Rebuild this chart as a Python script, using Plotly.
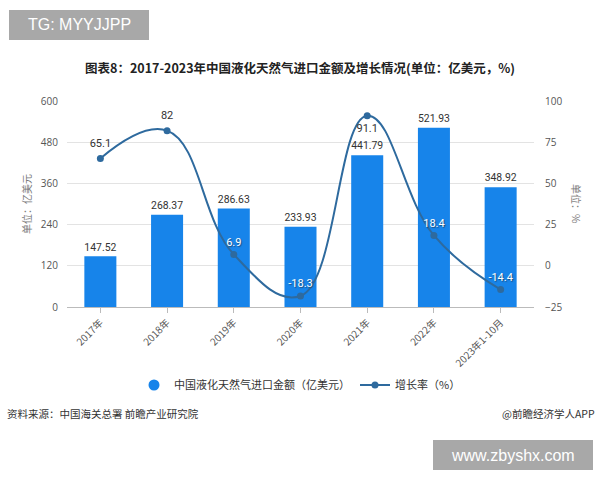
import plotly.graph_objects as go

categories = ["2017年", "2018年", "2019年", "2020年", "2021年", "2022年", "2023年1-10月"]
import_value = [147.52, 268.37, 286.63, 233.93, 441.79, 521.93, 348.92]
growth_rate = [65.1, 82, 6.9, -18.3, 91.1, 18.4, -14.4]
left_ticks = [0, 120, 240, 360, 480, 600]
right_ticks = [-25, 0, 25, 50, 75, 100]

W, H = 600, 480
L, R, T, B = 67, 534, 101, 307  # plot area px


def px(x):
    return (x - L) / (R - L)


def py(y):
    return (B - y) / (B - T)


CJK = "Noto Sans CJK SC, Noto Sans, sans-serif"
NUM = "Roboto, Noto Sans, sans-serif"
bar_color = "#1784EA"
line_color = "#2E6A9E"

fig = go.Figure()
fig.add_trace(go.Bar(
    x=categories, y=import_value, name="中国液化天然气进口金额（亿美元）",
    marker=dict(color=bar_color, line=dict(width=0)), width=0.48,
    text=[f"{v:.2f}" for v in import_value], textposition="outside",
    textfont=dict(size=11, color="#333333", family=NUM),
    cliponaxis=False, yaxis="y", showlegend=False,
))
# legend entry with a round symbol for the bars
fig.add_trace(go.Scatter(
    x=[None], y=[None], mode="markers", name="中国液化天然气进口金额（亿美元）",
    marker=dict(color=bar_color, size=11, symbol="circle"), showlegend=True,
))

fig.add_trace(go.Scatter(
    x=categories, y=growth_rate, name="增长率（%）", yaxis="y2",
    mode="lines+markers", line=dict(color=line_color, width=2, shape="spline", smoothing=1.2),
    marker=dict(color=line_color, size=7),
    cliponaxis=False,
))

# labels of the growth line: dark ones outside bars, white ones on bars
dark_idx = [0, 1, 4]
white_idx = [2, 3, 5, 6]
dark_pos = ["top center", "top center", "bottom center"]
fig.add_trace(go.Scatter(
    x=[categories[i] for i in dark_idx], y=[growth_rate[i] for i in dark_idx], yaxis="y2",
    mode="markers+text", text=[str(growth_rate[i]) for i in dark_idx], textposition=dark_pos,
    marker=dict(size=12, opacity=0),
    textfont=dict(size=11, color="#333333", family=NUM), showlegend=False, cliponaxis=False,
    hoverinfo="skip",
))
fig.add_trace(go.Scatter(
    x=[categories[i] for i in white_idx], y=[growth_rate[i] for i in white_idx], yaxis="y2",
    mode="markers+text", text=[str(growth_rate[i]) for i in white_idx], textposition="top center",
    marker=dict(size=8, opacity=0),
    textfont=dict(size=11, color="white", family=NUM, shadow="1px 1px 1px #1F4F7A"),
    showlegend=False, cliponaxis=False, hoverinfo="skip",
))

annotations = [
    dict(x=px(300), y=py(67), xref="paper", yref="paper", showarrow=False,
         text="<b>图表8：2017-2023年中国液化天然气进口金额及增长情况(单位：亿美元，%)</b>",
         font=dict(size=12.5, color="#222222", family=CJK), xanchor="center", yanchor="middle"),
    dict(x=px(79), y=py(25), xref="paper", yref="paper", showarrow=False,
         text="TG: MYYJJPP", font=dict(size=16, color="white", family="Liberation Sans, Arial"),
         xanchor="center", yanchor="middle"),
    dict(x=px(513), y=py(455), xref="paper", yref="paper", showarrow=False,
         text="www.zbyshx.com", font=dict(size=16, color="white", family="Liberation Sans, Arial"),
         xanchor="center", yanchor="middle"),
    dict(x=px(26), y=py(204), xref="paper", yref="paper", showarrow=False, textangle=-90,
         text="单位：亿美元", font=dict(size=10, color="#7A7A7A", family=CJK),
         xanchor="center", yanchor="middle"),
    dict(x=px(577), y=py(203), xref="paper", yref="paper", showarrow=False, textangle=90,
         text="单位：%", font=dict(size=10, color="#7A7A7A", family=CJK),
         xanchor="center", yanchor="middle"),
    dict(x=px(5), y=py(413), xref="paper", yref="paper", showarrow=False,
         text="资料来源：中国海关总署 前瞻产业研究院", font=dict(size=10.5, color="#333333", family=CJK),
         xanchor="left", yanchor="middle"),
    dict(x=px(597), y=py(413), xref="paper", yref="paper", showarrow=False,
         text="@前瞻经济学人APP", font=dict(size=10.5, color="#333333", family=CJK),
         xanchor="right", yanchor="middle"),
]

shapes = [
    dict(type="rect", xref="paper", yref="paper", x0=px(9), x1=px(149), y0=py(10), y1=py(40),
         fillcolor="#A8A8A8", line=dict(width=0), layer="above"),
    dict(type="rect", xref="paper", yref="paper", x0=px(433), x1=px(593), y0=py(440), y1=py(470),
         fillcolor="#A8A8A8", line=dict(width=0), layer="above"),
]

fig.update_layout(
    width=W, height=H, margin=dict(l=L, r=W - R, t=T, b=H - B, autoexpand=False),
    paper_bgcolor="white", plot_bgcolor="white",
    showlegend=True,
    legend=dict(orientation="h", x=px(300), xanchor="center", y=py(385), yanchor="middle",
                font=dict(size=11, color="#333333", family=CJK), itemwidth=30),
    xaxis=dict(tickangle=-45, tickfont=dict(size=10, color="#555555", family=CJK),
               showline=True, linecolor="#BBBBBB", ticks="outside", ticklen=5, tickcolor="#BBBBBB",
               showgrid=False),
    yaxis=dict(range=[0, 600], tickvals=left_ticks, showgrid=True, gridcolor="#E3E3E3",
               tickfont=dict(size=10, color="#555555"), zeroline=False, ticks="", ticklabelstandoff=8),
    yaxis2=dict(range=[-25, 100], tickvals=right_ticks, overlaying="y", side="right",
                showgrid=False, zeroline=False, tickfont=dict(size=10, color="#555555"),
                ticklabelstandoff=10),
    annotations=annotations, shapes=shapes,
    bargap=0.5,
)

fig.write_html("out.html", config={"displayModeBar": False},
               post_script="document.body.style.margin='0';document.body.style.padding='0';")
